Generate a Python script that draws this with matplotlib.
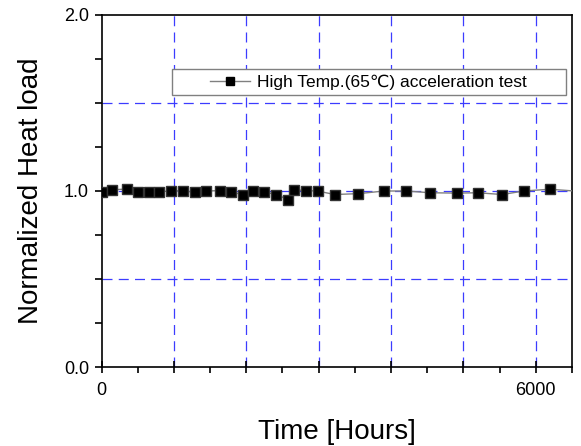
import matplotlib
matplotlib.use("Agg")
import matplotlib.pyplot as plt
from matplotlib.patches import Rectangle
from matplotlib.ticker import MultipleLocator, FixedLocator, FixedFormatter

plt.rcParams['font.family'] = ['Liberation Sans', 'DejaVu Sans']

# data
hours = [0, 150, 350, 500, 650, 800, 960, 1130, 1290, 1450, 1635, 1795, 1955,
         2095, 2250, 2415, 2580, 2665, 2825, 2985, 3220, 3550, 3905, 4205,
         4545, 4915, 5200, 5535, 5835, 6195, 6700]
heat = [0.996, 1.007, 1.011, 0.994, 0.994, 0.994, 1.002, 1.0, 0.994, 1.0,
        1.002, 0.994, 0.979, 1.0, 0.994, 0.98, 0.951, 1.007, 1.002, 1.0,
        0.98, 0.985, 1.0, 1.0, 0.99, 0.988, 0.99, 0.98, 1.0, 1.01, 0.995]
series_label = 'High Temp.(65\u2103) acceleration test'
xtick_vals = [0, 1000, 2000, 3000, 4000, 5000, 6000]
xtick_text = ['0', '', '', '', '', '', '6000']

fig = plt.figure(figsize=(5.81, 4.46), dpi=100)
ax = fig.add_axes([0.1747, 0.1771, 0.8098, 0.7893])

grid_col = '#3c3cff'
for x in xtick_vals[1:]:
    ax.axvline(x, color=grid_col, lw=0.9, dashes=(8, 5), zorder=1)
for y in [0.5, 1.0, 1.5]:
    ax.axhline(y, color=grid_col, lw=0.9, dashes=(8, 5), zorder=1)

ax.plot(hours, heat, color='#808080', lw=1.0, marker='s', markersize=7,
        markerfacecolor='black', markeredgecolor='#333333', zorder=3)

ax.set_xlim(0, 6500)
ax.set_ylim(0, 2.0)

ax.xaxis.set_major_locator(FixedLocator(xtick_vals))
ax.xaxis.set_major_formatter(FixedFormatter(xtick_text))
ax.xaxis.set_minor_locator(MultipleLocator(500))
ax.yaxis.set_major_locator(MultipleLocator(1.0))
ax.yaxis.set_minor_locator(MultipleLocator(0.25))
ax.yaxis.set_major_formatter(matplotlib.ticker.FormatStrFormatter('%.1f'))

ax.tick_params(axis='x', which='major', direction='inout', length=9, width=1.2,
               labelsize=13, pad=6)
ax.tick_params(axis='x', which='minor', direction='out', length=4, width=1.2)
ax.tick_params(axis='y', which='both', direction='out', length=5, width=1.2,
               labelsize=13, pad=4)
for s in ax.spines.values():
    s.set_linewidth(1.2)

ax.set_xlabel('Time [Hours]', fontsize=20, labelpad=15)
ax.set_ylabel('Normalized Heat load', fontsize=20, labelpad=14)

# legend box
box = Rectangle((0.1492, 0.7727), 0.8374, 0.0739, transform=ax.transAxes,
                facecolor='white', edgecolor='#808080', lw=1.0, zorder=4)
ax.add_patch(box)
h, = ax.plot([], [], color='#808080', lw=1.0, marker='s', markersize=6,
             markerfacecolor='black', markeredgecolor='black')
leg = ax.legend([h], [series_label], loc='center',
                bbox_to_anchor=(0.5679, 0.8097), frameon=False, fontsize=12.5,
                handlelength=2.3, handletextpad=0.4, borderpad=0)
leg.set_zorder(5)

fig.savefig('out.png', dpi=100)
